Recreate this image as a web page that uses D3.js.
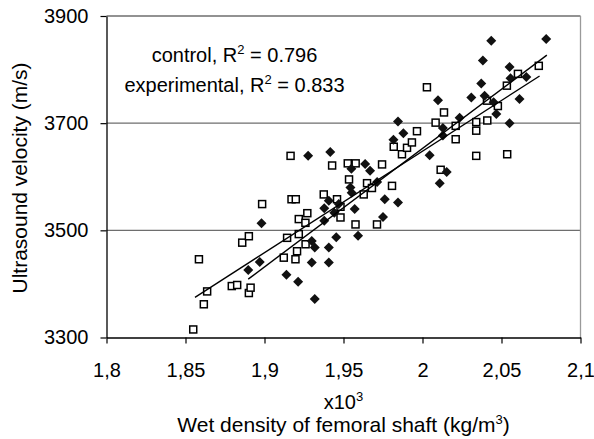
<!DOCTYPE html>
<html>
<head>
<meta charset="utf-8">
<script src="https://cdn.jsdelivr.net/npm/d3@7"></script>
<style>
  html, body { margin: 0; padding: 0; background: #fff; }
  svg { display: block; font-family: "Liberation Sans", Arial, sans-serif; }
</style>
</head>
<body>
<svg id="chart" width="594" height="439"></svg>
<script>
// filled diamonds
var diamondX = [1.8897, 1.8970, 1.8981, 1.9139, 1.9213, 1.9318, 1.9299, 1.9318, 1.9299, 1.9407,
                1.9407, 1.9454, 1.9378, 1.9378, 1.9407, 1.9442, 1.9470, 1.9276, 1.9416, 1.9550,
                1.9637, 1.9668, 1.9713, 1.9544, 1.9552, 1.9571, 1.9761, 1.9845, 1.9750, 1.9592,
                1.9845, 1.9879, 1.9816, 2.0045, 2.0098, 2.0129, 2.0129, 2.0153, 2.0109, 2.0235,
                2.0309, 2.0372, 2.0382, 2.0435, 2.0393, 2.0450, 2.0467, 2.0551, 2.0557, 2.0657,
                2.0614, 2.0551, 2.0783];
var diamondY = [3426, 3441, 3513, 3417, 3404, 3372, 3480, 3468, 3440, 3468,
                3440, 3487, 3518, 3541, 3555, 3533, 3549, 3639, 3646, 3615,
                3624, 3611, 3590, 3580, 3570, 3540, 3558, 3552, 3525, 3490,
                3703, 3681, 3669, 3640, 3743, 3691, 3677, 3609, 3588, 3710,
                3748, 3774, 3817, 3854, 3751, 3739, 3717, 3805, 3784, 3786,
                3745, 3700, 3857];

// open squares
var squareX = [1.8549, 1.8616, 1.8637, 1.8585, 1.8793, 1.8827, 1.8901, 1.8912, 1.8859, 1.8901,
               1.8985, 1.9143, 1.9122, 1.9171, 1.9198, 1.9165, 1.9428, 1.9375, 1.9459, 1.9481,
               1.9481, 1.9271, 1.9217, 1.9259, 1.9217, 1.9260, 1.9206, 1.9196, 1.9527, 1.9577,
               1.9744, 1.9535, 1.9649, 1.9680, 1.9628, 1.9807, 1.9576, 1.9712, 1.9818, 1.9870,
               1.9902, 1.9933, 1.9965, 2.0028, 2.0083, 2.0136, 2.0210, 2.0210, 2.0115, 2.0340,
               2.0410, 2.0340, 2.0340, 2.0536, 2.0408, 2.0477, 2.0534, 2.0604, 2.0736];
var squareY = [3315, 3362, 3386, 3446, 3396, 3398, 3383, 3393, 3477, 3489,
               3549, 3486, 3449, 3558, 3558, 3639, 3621, 3567, 3558, 3544,
               3524, 3532, 3521, 3514, 3493, 3474, 3461, 3446, 3625, 3625,
               3623, 3595, 3588, 3579, 3567, 3583, 3511, 3511, 3656, 3642,
               3654, 3664, 3685, 3767, 3701, 3720, 3695, 3670, 3613, 3702,
               3705, 3686, 3639, 3642, 3742, 3732, 3770, 3792, 3807];

// linear trend lines (end points)
var diamondFitX = [1.8897, 2.0787];
var diamondFitY = [3409, 3827];
var squareFitX = [1.8560, 2.0741];
var squareFitY = [3375, 3788];

var xTicks = [1.8, 1.85, 1.9, 1.95, 2.0, 2.05, 2.1];
var yTicks = [3300, 3500, 3700, 3900];
var gridValues = [3500, 3700, 3900];
var notes = ["control", "experimental"];
var rSquared = ["0.796", "0.833"];

var svg = d3.select("#chart");

var x = d3.scaleLinear().domain([1.8, 2.1]).range([106.5, 580.5]);
var y = d3.scaleLinear().domain([3300, 3900]).range([337.5, 16]);

// grid lines + right border
svg.append("g").selectAll("line")
	.data(gridValues)
	.enter().append("line")
		.attr("x1", x(1.8)).attr("x2", x(2.1))
		.attr("y1", function(d) { return y(d); })
		.attr("y2", function(d) { return y(d); })
		.attr("stroke", "#6e6e6e")
		.attr("stroke-width", 1.3);

svg.append("line")
	.attr("x1", x(2.1)).attr("x2", x(2.1))
	.attr("y1", y(3300)).attr("y2", y(3900))
	.attr("stroke", "#9a9a9a")
	.attr("stroke-width", 1.3);

// axes
var xAxis = svg.append("g")
	.attr("transform", "translate(0," + y(3300) + ")")
	.call(d3.axisBottom(x).tickValues(xTicks).tickSizeInner(6).tickSizeOuter(0)
		.tickPadding(19)
		.tickFormat(function(d) { return String(+d.toFixed(2)).replace(".", ","); }));

var yAxis = svg.append("g")
	.attr("transform", "translate(" + x(1.8) + ",0)")
	.call(d3.axisLeft(y).tickValues(yTicks).tickSizeInner(6).tickSizeOuter(0)
		.tickPadding(12)
		.tickFormat(d3.format("d")));

[xAxis, yAxis].forEach(function(a) {
	a.select(".domain").attr("stroke", "#000").attr("stroke-width", 1.3);
	a.selectAll(".tick line").attr("stroke", "#000").attr("stroke-width", 1.2);
	a.selectAll(".tick text")
		.attr("fill", "#000")
		.style("font-size", "20px")
		.style("font-family", "'Liberation Sans', Arial, sans-serif");
});

// markers
svg.append("g").selectAll("rect")
	.data(squareX)
	.enter().append("rect")
		.attr("x", function(d) { return x(d) - 3.5; })
		.attr("y", function(d, i) { return y(squareY[i]) - 3.5; })
		.attr("width", 7)
		.attr("height", 7)
		.attr("fill", "#fff")
		.attr("stroke", "#000")
		.attr("stroke-width", 1.5);

svg.append("g").selectAll("path")
	.data(diamondX)
	.enter().append("path")
		.attr("transform", function(d, i) { return "translate(" + x(d) + "," + y(diamondY[i]) + ")"; })
		.attr("d", "M0,-5L5,0L0,5L-5,0Z")
		.attr("fill", "#111");

// trend lines
var fits = [[diamondFitX, diamondFitY], [squareFitX, squareFitY]];
svg.append("g").selectAll("line")
	.data(fits)
	.enter().append("line")
		.attr("x1", function(d) { return x(d[0][0]); })
		.attr("y1", function(d) { return y(d[1][0]); })
		.attr("x2", function(d) { return x(d[0][1]); })
		.attr("y2", function(d) { return y(d[1][1]); })
		.attr("stroke", "#000")
		.attr("stroke-width", 1.4);

// R² notes
var noteText = svg.append("g").selectAll("text")
	.data(notes)
	.enter().append("text")
		.attr("x", 234.5)
		.attr("y", function(d, i) { return 62 + i * 30; })
		.attr("text-anchor", "middle")
		.style("font-size", "20px")
		.attr("fill", "#000");
noteText.append("tspan").text(function(d) { return d + ", R"; });
noteText.append("tspan").attr("dy", -8).style("font-size", "13px").text("2");
noteText.append("tspan").attr("dy", 8).text(function(d, i) { return " = " + rSquared[i]; });

// axis titles
var xt = svg.append("text")
	.attr("x", 343.5).attr("y", 409)
	.attr("text-anchor", "middle")
	.style("font-size", "20px");
xt.append("tspan").text("x10");
xt.append("tspan").attr("dy", -8).style("font-size", "13px").text("3");

var xTitle = svg.append("text")
	.attr("x", 343.5).attr("y", 432)
	.attr("text-anchor", "middle")
	.style("font-size", "21px");
xTitle.append("tspan").text("Wet density of femoral shaft (kg/m");
xTitle.append("tspan").attr("dy", -8).style("font-size", "13px").text("3");
xTitle.append("tspan").attr("dy", 8).text(")");

svg.append("text")
	.attr("transform", "translate(27,178) rotate(-90)")
	.attr("text-anchor", "middle")
	.style("font-size", "21px")
	.text("Ultrasound velocity (m/s)");
</script>
</body>
</html>
